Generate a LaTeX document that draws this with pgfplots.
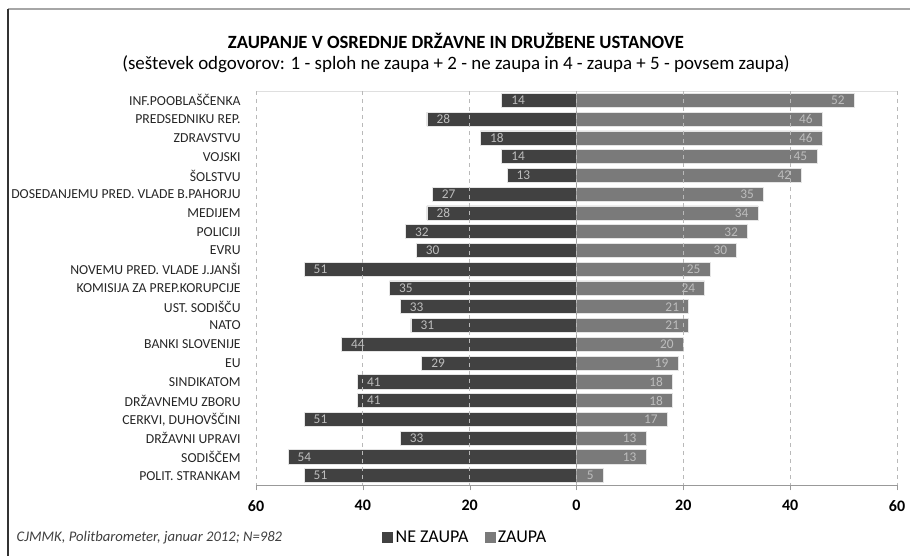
\documentclass[border=0pt]{standalone}
\usepackage{fontspec}
\setmainfont{Carlito}
\usepackage{pgfplots}
\usepackage{pgfplotstable}
\pgfplotsset{compat=1.18}
\definecolor{nebar}{HTML}{414141}
\definecolor{zabar}{HTML}{7A7A7A}
\definecolor{barlbl}{HTML}{BDBDBD}

% NE ZAUPA / ZAUPA, top row first
\pgfplotstableread{
idx ne za
0 14 52
1 28 46
2 18 46
3 14 45
4 13 42
5 27 35
6 28 34
7 32 32
8 30 30
9 51 25
10 35 24
11 33 21
12 31 21
13 44 20
14 29 19
15 41 18
16 41 18
17 51 17
18 33 13
19 54 13
20 51 5
}\trust

\begin{document}
\begin{tikzpicture}
\useasboundingbox (0,0) rectangle (682.5pt,-417pt);
% frame
\draw[gray!70, line width=1.5pt] (6pt,-6.75pt) -- (682.5pt,-6.75pt);
\draw[black!80, line width=0.8pt] (6pt,-6.75pt) -- (6pt,-417pt);
\node[font=\bfseries\fontsize{14}{16}\selectfont] at (342pt,-31pt)
  {ZAUPANJE V OSREDNJE DRŽAVNE IN DRUŽBENE USTANOVE};
\node[font=\fontsize{14.2}{16}\selectfont] at (342pt,-48.5pt)
  {(seštevek odgovorov: 1 - sploh ne zaupa + 2 - ne zaupa in 4 - zaupa + 5 - povsem zaupa)};
\node[font=\itshape\fontsize{11}{12}\selectfont, text=black!75, anchor=west] at (9pt,-403.5pt)
  {CJMMK, Politbarometer, januar 2012; N=982};

\begin{axis}[
    at={(192pt,-363.75pt)}, anchor=south west,
    scale only axis,
    width=480.75pt, height=295.5pt,
    xmin=-60, xmax=60,
    ymin=-0.5, ymax=20.5,
    y dir=reverse,
    bar shift=0pt,
    axis on top,
    xtick={-60,-40,...,60},
    xticklabel={\pgfmathparse{abs(\tick)}\pgfmathprintnumber[assume math mode=true]{\pgfmathresult}},
    x tick label style={font=\bfseries\fontsize{12}{14}\selectfont, yshift=-4pt},
    ytick={0,...,20},
    yticklabels={{INF.POOBLAŠČENKA},{PREDSEDNIKU REP.},{ZDRAVSTVU},{VOJSKI},{ŠOLSTVU},
      {DOSEDANJEMU PRED. VLADE B.PAHORJU},{MEDIJEM},{POLICIJI},{EVRU},
      {NOVEMU PRED. VLADE J.JANŠI},{KOMISIJA ZA PREP.KORUPCIJE},{UST. SODIŠČU},{NATO},
      {BANKI SLOVENIJE},{EU},{SINDIKATOM},{DRŽAVNEMU ZBORU},{CERKVI, DUHOVŠČINI},
      {DRŽAVNI UPRAVI},{SODIŠČEM},{POLIT. STRANKAM}},
    y tick label style={font=\fontsize{10.3}{11}\selectfont, text=black!85, xshift=-4pt},
    axis x line*=bottom,
    axis y line*=left,
    y axis line style={draw=none},
    ytick style={draw=none},
    x axis line style={gray!80, -},
    xtick style={gray!80},
    tick align=outside,
    major tick length=4pt,
    xmajorgrids,
    grid style={gray!55, dashed, line width=0.7pt},
    legend style={at={(axis description cs:0.327,-0.1345)}, anchor=center, draw=none,
      fill=none, font=\fontsize{13.5}{15}\selectfont, legend columns=2,
      /tikz/every even column/.append style={column sep=10pt}},
]
\addplot[xbar, bar width=0.75, fill=nebar, draw=white!80!gray, line width=0.5pt,
    point meta=explicit,
    nodes near coords={\pgfmathprintnumber[assume math mode=true]{\pgfplotspointmeta}},
    nodes near coords style={anchor=west, xshift=7pt, inner sep=0pt, text=barlbl,
      font=\fontsize{10}{11}\selectfont},
    legend image code/.code={\fill[nebar] (0pt,-3.4pt) rectangle (7.5pt,4.1pt);}]
    table[x expr=-\thisrow{ne}, y=idx, meta=ne] {\trust};
\addlegendentry{NE ZAUPA}
\addplot[xbar, bar width=0.75, fill=zabar, draw=white!80!gray, line width=0.5pt,
    point meta=explicit,
    nodes near coords={\pgfmathprintnumber[assume math mode=true]{\pgfplotspointmeta}},
    nodes near coords style={anchor=east, xshift=-7pt, inner sep=0pt, text=barlbl,
      font=\fontsize{10}{11}\selectfont},
    legend image code/.code={\fill[zabar] (0pt,-3.4pt) rectangle (7.5pt,4.1pt);}]
    table[x=za, y=idx, meta=za] {\trust};
\addlegendentry{ZAUPA}
\draw[gray!75, line width=0.6pt] (axis cs:0,-0.5) -- (axis cs:0,20.5);
\draw[gray!25, line width=0.6pt] (axis description cs:0,1) -- (axis description cs:1,1);
\end{axis}
\end{tikzpicture}
\end{document}
